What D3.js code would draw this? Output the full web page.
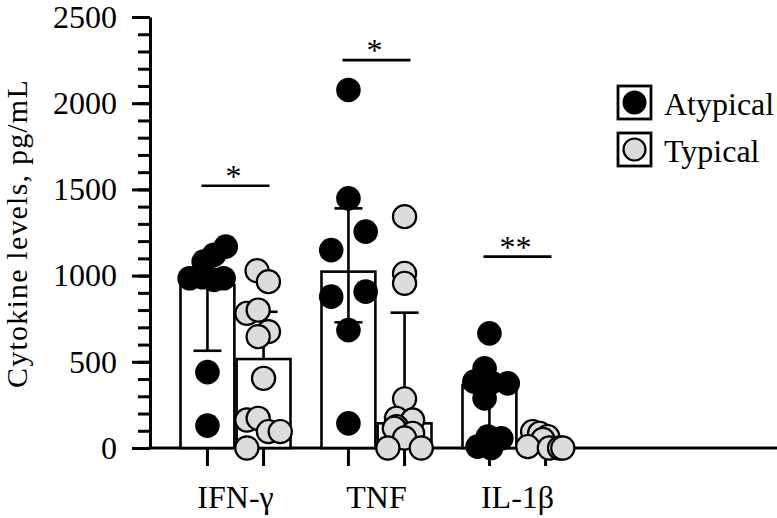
<!DOCTYPE html>
<html><head><meta charset="utf-8">
<script src="https://cdn.jsdelivr.net/npm/d3@7"></script>
<style>
body{margin:0;background:#fff}
svg{display:block}
</style>
</head><body><svg id="c" width="777" height="518" font-family="Liberation Serif"></svg>
<script>
const categories = ["IFN-γ", "TNF", "IL-1β"];
const seriesNames = ["Atypical", "Typical"];
const atypicalBar = [945, 1023, 365];
const typicalBar = [516, 143, 30];
const atypicalErrLow = [564, 729, 60];
const atypicalErrHigh = [null, 1390, null];
const typicalErrLow = [null, null, null];
const typicalErrHigh = [790, 785, null];
const atypicalPoints = [
  [1168, 1120, 1081, 985, 990, 975, 985, 440, 130],
  [2077, 1448, 1255, 1148, 878, 907, 684, 143],
  [665, 462, 385, 380, 375, 288, 66, 56, 8, 0]
];
const atypicalJitter = [
  [0.34, 0.12, -0.07, -0.33, -0.09, 0.12, 0.3, 0, 0],
  [0, 0, 0.32, -0.32, -0.32, 0.32, 0, 0],
  [0, -0.09, -0.28, 0.03, 0.34, -0.09, -0.03, 0.22, -0.22, 0.03]
];
const typicalPoints = [
  [1028, 965, 781, 800, 675, 646, 404, 162, 172, 95, 95, 0],
  [1342, 1013, 955, 285, 172, 162, 124, 114, 85, 58, 0, 0],
  [95, 85, 66, 50, 8, 0, 0, 0]
];
const typicalJitter = [
  [-0.12, 0.09, -0.31, -0.1, 0.09, -0.1, 0, -0.31, -0.1, 0.09, 0.31, -0.31],
  [0, 0, 0, 0, -0.15, 0.15, -0.15, -0.19, 0.15, 0, -0.31, 0.31],
  [-0.24, -0.11, 0.04, -0.05, -0.33, 0.07, 0.26, 0.32]
];
const sigLabels = ["*", "*", "**"];
const sigValues = [1521, 2250, 1110];
const yTickValues = [0, 500, 1000, 1500, 2000, 2500];
const yMinorValues = d3.range(0, 2501, 100);
const yTitle = "Cytokine levels, pg/mL";

const W = 777, H = 518;
const svg = d3.select("#c");
const FS = 32;
const FONT = "Liberation Serif";

const y = d3.scaleLinear().domain([0, 2500]).range([448, 17]);
const xOuter = d3.scaleBand().domain(categories).range([165, 588]);
const bw = xOuter.bandwidth();
const xInner = d3.scaleBand().domain(seriesNames)
  .range([bw / 2 - 55, bw / 2 + 55]).paddingInner(0.04);
const barW = xInner.bandwidth();
const axisX = 150;

// Y axis minor ticks
const gMinor = svg.append("g").attr("transform", `translate(${axisX},0)`)
  .call(d3.axisLeft(y).tickValues(yMinorValues).tickSize(12).tickSizeOuter(0).tickFormat(""));
gMinor.select(".domain").remove();
gMinor.selectAll("line").attr("stroke", "#000").attr("stroke-width", 3);

// Y axis major
const gY = svg.append("g").attr("transform", `translate(${axisX},0)`)
  .call(d3.axisLeft(y).tickValues(yTickValues).tickFormat(d3.format("d"))
    .tickSize(18).tickSizeOuter(0).tickPadding(15));
gY.attr("font-family", FONT).attr("font-size", FS);
gY.select(".domain").attr("stroke", "#000").attr("stroke-width", 3);
gY.selectAll("line").attr("stroke", "#000").attr("stroke-width", 3);

// Y title
svg.append("text")
  .attr("transform", `translate(27,${(y(0) + y(2500)) / 2 + 1}) rotate(-90)`)
  .attr("text-anchor", "middle")
  .attr("font-family", FONT)
  .attr("font-size", 30)
  .attr("letter-spacing", 1.2)
  .text(yTitle);

// X axis line
svg.append("line")
  .attr("x1", axisX - 1.5).attr("x2", W).attr("y1", y(0)).attr("y2", y(0))
  .attr("stroke", "#000").attr("stroke-width", 3);

// X category labels
const gX = svg.append("g").attr("transform", `translate(0,${y(0)})`)
  .call(d3.axisBottom(xOuter).tickSize(0).tickPadding(37));
gX.attr("font-family", FONT).attr("font-size", FS);
gX.select(".domain").remove();

// Build per-bar records
const bars = [];
categories.forEach((c, i) => {
  bars.push({cat: c, s: "Atypical", v: atypicalBar[i], lo: atypicalErrLow[i], hi: atypicalErrHigh[i], pts: atypicalPoints[i], jit: atypicalJitter[i]});
  bars.push({cat: c, s: "Typical", v: typicalBar[i], lo: typicalErrLow[i], hi: typicalErrHigh[i], pts: typicalPoints[i], jit: typicalJitter[i]});
});
const cx = d => xOuter(d.cat) + xInner(d.s) + barW / 2;

// X ticks under bars
svg.selectAll(".xt").data(bars).join("line")
  .attr("x1", cx).attr("x2", cx).attr("y1", y(0)).attr("y2", y(0) + 18)
  .attr("stroke", "#000").attr("stroke-width", 3);

// Bars
svg.selectAll(".bar").data(bars).join("rect")
  .attr("x", d => cx(d) - barW / 2).attr("width", barW)
  .attr("y", d => y(d.v)).attr("height", d => y(0) - y(d.v))
  .attr("fill", "#fff").attr("stroke", "#000").attr("stroke-width", 2.6);

// Error bars
const capW = 28;
bars.forEach(d => {
  const x0 = cx(d);
  [d.lo, d.hi].forEach(e => {
    if (e === null || e === undefined) return;
    svg.append("line").attr("x1", x0).attr("x2", x0).attr("y1", y(d.v)).attr("y2", y(e))
      .attr("stroke", "#000").attr("stroke-width", 2.6);
    svg.append("line").attr("x1", x0 - capW / 2).attr("x2", x0 + capW / 2).attr("y1", y(e)).attr("y2", y(e))
      .attr("stroke", "#000").attr("stroke-width", 2.6);
  });
});

// Points
bars.forEach(d => {
  const x0 = cx(d);
  const pts = d.pts.map((v, k) => ({v, j: d.jit[k]}));
  svg.append("g").selectAll("circle").data(pts).join("circle")
    .attr("cx", p => x0 + p.j * barW)
    .attr("cy", p => y(p.v))
    .attr("r", d.s === "Atypical" ? 12.3 : 11.6)
    .attr("fill", d.s === "Atypical" ? "#000" : "#dcdcdc")
    .attr("stroke", "#000")
    .attr("stroke-width", d.s === "Atypical" ? 0 : 2.2);
});

// Significance
categories.forEach((c, i) => {
  const mid = xOuter(c) + bw / 2;
  const yy = y(sigValues[i]);
  svg.append("line").attr("x1", mid - 34).attr("x2", mid + 34).attr("y1", yy).attr("y2", yy)
    .attr("stroke", "#000").attr("stroke-width", 2.6);
  svg.append("text").attr("x", mid - 2).attr("y", yy + 1)
    .attr("text-anchor", "middle").attr("font-family", FONT).attr("font-size", FS).text(sigLabels[i]);
});

// Legend
seriesNames.forEach((s, i) => {
  const top = 86 + i * 47;
  const g = svg.append("g");
  g.append("rect").attr("x", 618).attr("y", top).attr("width", 33).attr("height", 33)
    .attr("fill", "#fff").attr("stroke", "#000").attr("stroke-width", 2.8);
  g.append("circle").attr("cx", 634.5).attr("cy", top + 16.5)
    .attr("r", s === "Atypical" ? 12 : 11)
    .attr("fill", s === "Atypical" ? "#000" : "#dcdcdc")
    .attr("stroke", "#000").attr("stroke-width", s === "Atypical" ? 0 : 2.2);
  g.append("text").attr("x", 664).attr("y", top + 29)
    .attr("font-family", FONT).attr("font-size", FS).text(s);
});
</script>
</body></html>
